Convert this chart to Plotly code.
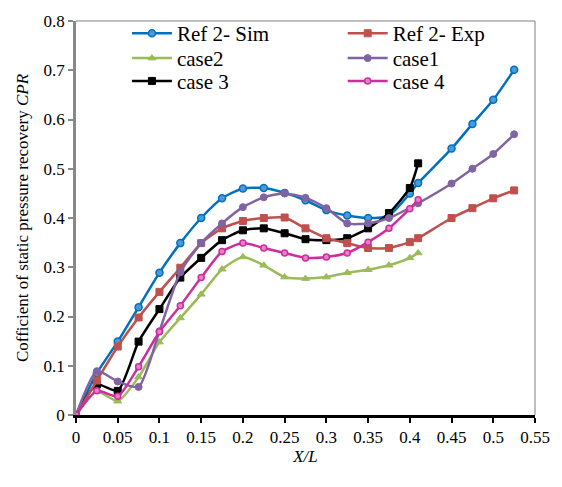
import plotly.graph_objects as go

x_sim = [0, 0.025, 0.05, 0.075, 0.1, 0.125, 0.15, 0.175, 0.2, 0.225, 0.25, 0.275, 0.3, 0.325, 0.35, 0.375, 0.4, 0.41, 0.45, 0.475, 0.5, 0.525]
y_sim = [0, 0.085, 0.149, 0.219, 0.289, 0.349, 0.40, 0.44, 0.46, 0.461, 0.451, 0.436, 0.416, 0.405, 0.40, 0.405, 0.45, 0.471, 0.541, 0.591, 0.64, 0.701]

x_exp = [0, 0.025, 0.05, 0.075, 0.1, 0.125, 0.15, 0.175, 0.2, 0.225, 0.25, 0.275, 0.3, 0.325, 0.35, 0.375, 0.4, 0.41, 0.45, 0.475, 0.5, 0.525]
y_exp = [0, 0.07, 0.139, 0.198, 0.25, 0.299, 0.349, 0.379, 0.394, 0.40, 0.401, 0.379, 0.359, 0.349, 0.339, 0.339, 0.351, 0.359, 0.40, 0.42, 0.44, 0.456]

x_c2 = [0, 0.025, 0.05, 0.075, 0.1, 0.125, 0.15, 0.175, 0.2, 0.225, 0.25, 0.275, 0.3, 0.325, 0.35, 0.375, 0.4, 0.41]
y_c2 = [0, 0.048, 0.028, 0.077, 0.148, 0.197, 0.245, 0.296, 0.321, 0.304, 0.28, 0.277, 0.28, 0.289, 0.295, 0.304, 0.319, 0.329]

x_c1 = [0, 0.025, 0.05, 0.075, 0.1, 0.125, 0.15, 0.175, 0.2, 0.225, 0.25, 0.275, 0.3, 0.325, 0.35, 0.375, 0.41, 0.45, 0.475, 0.5, 0.525]
y_c1 = [0, 0.089, 0.068, 0.057, 0.17, 0.29, 0.349, 0.389, 0.422, 0.442, 0.45, 0.441, 0.42, 0.389, 0.389, 0.40, 0.43, 0.47, 0.50, 0.53, 0.57]

x_c3 = [0, 0.025, 0.05, 0.075, 0.1, 0.125, 0.15, 0.175, 0.2, 0.225, 0.25, 0.275, 0.3, 0.325, 0.35, 0.375, 0.4, 0.41]
y_c3 = [0, 0.062, 0.049, 0.149, 0.215, 0.279, 0.319, 0.355, 0.375, 0.379, 0.369, 0.357, 0.355, 0.359, 0.379, 0.41, 0.461, 0.511]

x_c4 = [0, 0.025, 0.05, 0.075, 0.1, 0.125, 0.15, 0.175, 0.2, 0.225, 0.25, 0.275, 0.3, 0.325, 0.35, 0.375, 0.4, 0.41]
y_c4 = [0, 0.049, 0.038, 0.098, 0.169, 0.222, 0.279, 0.332, 0.349, 0.339, 0.329, 0.319, 0.321, 0.329, 0.351, 0.379, 0.419, 0.437]

FONT = "Liberation Serif"

fig = go.Figure()

def add(xs, ys, name, color, symbol, size, legend, inner=None):
    marker = dict(symbol=symbol, size=size, color=color,
                  line=dict(color=color, width=1))
    if inner:
        marker["color"] = inner
        marker["line"] = dict(color=color, width=1.5)
    fig.add_trace(go.Scatter(x=xs, y=ys, name=name, mode="lines+markers",
                             line=dict(color=color, width=2.5, shape="spline", smoothing=0.6),
                             marker=marker, legend=legend, showlegend=True))

add(x_sim, y_sim, "Ref 2- Sim", "#0070C0", "circle", 7, "legend", inner="#4a9ad8")
add(x_c2, y_c2, "case2", "#9BBB59", "triangle-up", 7, "legend2")
add(x_c3, y_c3, "case 3", "#000000", "square", 7, "legend3")
add(x_exp, y_exp, "Ref 2- Exp", "#C0504D", "square", 7, "legend4")
add(x_c1, y_c1, "case1", "#8064A2", "circle", 7, "legend5")
add(x_c4, y_c4, "case 4", "#CC2E9E", "circle", 6, "legend6", inner="#e87fc8")

def leg(x, y):
    return dict(x=x, y=y, xanchor="left", yanchor="middle", visible=True,
                font=dict(family=FONT, size=21, color="black"),
                bgcolor="rgba(0,0,0,0)", itemwidth=40)

row_y = [0.968, 0.905, 0.847]
col_x = [0.111, 0.581]

fig.update_layout(
    width=562, height=487,
    showlegend=True,
    margin=dict(l=76, r=16, t=15, b=72),
    plot_bgcolor="white", paper_bgcolor="white",
    font=dict(family=FONT, size=17, color="black"),
    legend=leg(col_x[0], row_y[0]),
    legend2=leg(col_x[0], row_y[1]),
    legend3=leg(col_x[0], row_y[2]),
    legend4=leg(col_x[1], row_y[0]),
    legend5=leg(col_x[1], row_y[1]),
    legend6=leg(col_x[1], row_y[2]),
    xaxis=dict(range=[0, 0.55], dtick=0.05, tick0=0, showgrid=False, zeroline=False,
               showline=True, linecolor="black", linewidth=2.5,
               ticks="outside", ticklen=5, tickwidth=2, tickcolor="black",
               tickfont=dict(family=FONT, size=17),
               title=dict(text="<i>X/L</i>", font=dict(family=FONT, size=17), standoff=2)),
    yaxis=dict(range=[0, 0.8], dtick=0.1, tick0=0, showgrid=False, zeroline=False,
               showline=True, linecolor="#888888", linewidth=2.5,
               ticks="outside", ticklen=5, tickwidth=1.5, tickcolor="#888888",
               tickfont=dict(family=FONT, size=17),
               title=dict(text="Cofficient of static pressure recovery <i>CPR</i>",
                          font=dict(family=FONT, size=17), standoff=11)),
    shapes=[
        dict(type="line", xref="paper", yref="paper", x0=0, x1=1, y0=1, y1=1,
             line=dict(color="#aaaaaa", width=1.5)),
        dict(type="line", xref="paper", yref="paper", x0=1, x1=1, y0=0, y1=1,
             line=dict(color="#aaaaaa", width=1.5)),
    ],
)

fig.write_html("out.html")
